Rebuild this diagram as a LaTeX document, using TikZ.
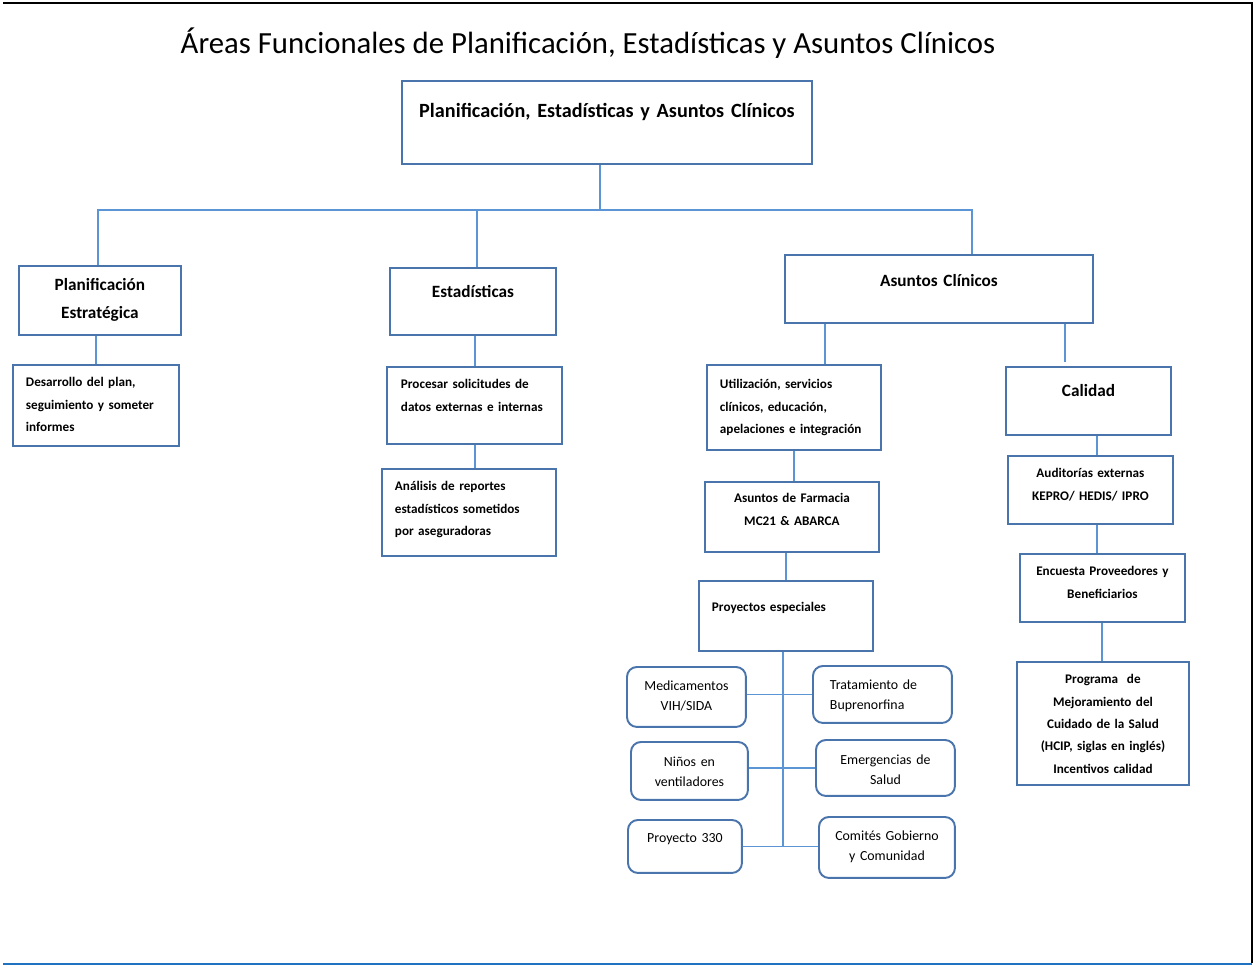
\documentclass[tikz,border=0pt]{standalone}
\usepackage{fontspec}
\setmainfont{Carlito}
\definecolor{boxblue}{HTML}{4A74AC}
\definecolor{linkblue}{HTML}{5B95D6}
\definecolor{frameblue}{HTML}{1E72C0}

\begin{document}
\begin{tikzpicture}[x=0.02cm, y=-0.02cm,
        box/.style={rectangle, draw=boxblue, line width=1.1pt, inner sep=0pt, anchor=north west, align=center},
        head/.style={box, font=\bfseries\fontsize{9.8}{15.9}\selectfont},
        item/.style={box, font=\bfseries\fontsize{7.5}{12.8}\selectfont},
        proj/.style={box, rounded corners=0.2cm, font=\fontsize{7.9}{11.4}\selectfont},
        dims/.style n args={3}{text width=#1, text height=#2, text depth=#3},
        flush/.style={align=left, inner xsep=#1},
        link/.style={draw=linkblue, line width=1.1pt}]
    \useasboundingbox (0,0) rectangle (1257,966);

    % frame
    \draw[line width=1.2pt] (3,3) -- (1252,3) -- (1252,963);
    \draw[frameblue, line width=1.2pt] (3,964) -- (1252,964);

    \node[font=\fontsize{17.5}{20}\selectfont, anchor=base] (title) at (588,54) {Áreas Funcionales de Planificación, Estadísticas y Asuntos Clínicos};

    \node[head, dims={8.2cm}{0.74cm}{0.92cm}, font=\bfseries\fontsize{11.5}{14}\selectfont] (top) at (401,80) {Planificación, Estadísticas y Asuntos Clínicos};

    \node[head, dims={3.24cm}{0.5cm}{0.88cm}] (plan) at (18,265) {Planificación\\Estratégica};
    \node[head, dims={3.32cm}{0.6cm}{0.74cm}] (est) at (389,267) {Estadísticas};
    \node[head, dims={6.16cm}{0.64cm}{0.72cm}] (ac) at (784,254) {Asuntos Clínicos};

    \node[item, flush=0.26cm, dims={2.8cm}{0.44cm}{1.18cm}] (des) at (12,364) {Desarrollo del plan,\\seguimiento y someter\\informes};
    \node[item, flush=0.28cm, dims={2.94cm}{0.44cm}{1.1cm}] (proc) at (386,366) {Procesar solicitudes de\\datos externas e internas};
    \node[item, flush=0.26cm, dims={2.96cm}{0.44cm}{1.3cm}] (anal) at (381,468) {Análisis de reportes\\estadísticos sometidos\\por aseguradoras};

    \node[item, flush=0.26cm, dims={2.96cm}{0.48cm}{1.22cm}] (util) at (706,364) {Utilización, servicios\\clínicos, educación,\\apelaciones e integración};
    \node[head, dims={3.3cm}{0.6cm}{0.76cm}] (cal) at (1005,366) {Calidad};
    \node[item, dims={3.48cm}{0.42cm}{0.98cm}] (farm) at (704,481) {Asuntos de Farmacia\\MC21 \& ABARCA};
    \node[item, dims={3.3cm}{0.44cm}{0.92cm}] (aud) at (1007,455) {Auditorías externas\\KEPRO/ HEDIS/ IPRO};
    \node[item, flush=0.26cm, dims={2.96cm}{0.62cm}{0.78cm}] (proy) at (698,580) {Proyectos especiales};
    \node[item, dims={3.3cm}{0.44cm}{0.92cm}] (enc) at (1019,553) {Encuesta Proveedores y\\Beneficiarios};
    \node[item, dims={3.44cm}{0.44cm}{2.02cm}, font=\bfseries\fontsize{7.5}{12.7}\selectfont] (prog) at (1016,661) {Programa~ de\\Mejoramiento del\\Cuidado de la Salud\\(HCIP, siglas en inglés)\\Incentivos calidad};

    \node[proj, dims={2.38cm}{0.48cm}{0.72cm}] (med) at (626,666) {Medicamentos\\VIH/SIDA};
    \node[proj, flush=0.34cm, dims={2.1cm}{0.48cm}{0.66cm}] (trat) at (812,665) {Tratamiento de\\Buprenorfina};
    \node[proj, dims={2.34cm}{0.5cm}{0.66cm}] (nin) at (630,741) {Niños en\\ventiladores};
    \node[proj, dims={2.78cm}{0.5cm}{0.62cm}] (emer) at (815,739) {Emergencias de\\Salud};
    \node[proj, dims={2.28cm}{0.46cm}{0.6cm}] (p330) at (627,819) {Proyecto 330};
    \node[proj, dims={2.72cm}{0.48cm}{0.74cm}] (com) at (818,816) {Comités Gobierno\\y Comunidad};

    % connectors
    \coordinate (bus) at (600,210);
    \coordinate (spine) at (783,846);
    \draw[link] (top.south -| bus) -- (bus);
    \draw[link] (plan.north -| 98,0) |- (bus) -| (ac.north -| 972,0);
    \draw[link] (est.north -| 477,0) |- (bus);

    \draw[link] (plan.south -| 96,0) -- (des.north -| 96,0);
    \draw[link] (est.south -| 475,0) -- (proc.north -| 475,0);
    \draw[link] (proc.south -| 475,0) -- (anal.north -| 475,0);

    \draw[link] (ac.south -| 825,0) -- (util.north -| 825,0);
    \draw[link] (ac.south -| 1065,0) -- (1065,362);
    \draw[link] (util.south -| 794,0) -- (farm.north -| 794,0);
    \draw[link] (farm.south -| 786,0) -- (proy.north -| 786,0);
    \draw[link] (cal.south -| 1097,0) -- (aud.north -| 1097,0);
    \draw[link] (aud.south -| 1097,0) -- (enc.north -| 1097,0);
    \draw[link] (enc.south -| 1102,0) -- (prog.north -| 1102,0);

    \draw[link] (proy.south -| spine) -- (spine);
    \draw[link] (med.east |- trat.west) -- (trat.west);
    \draw[link] (nin.east |- emer.west) -- (emer.west);
    \draw[link] (p330.east) -- (p330.east -| com.west);
\end{tikzpicture}
\end{document}
